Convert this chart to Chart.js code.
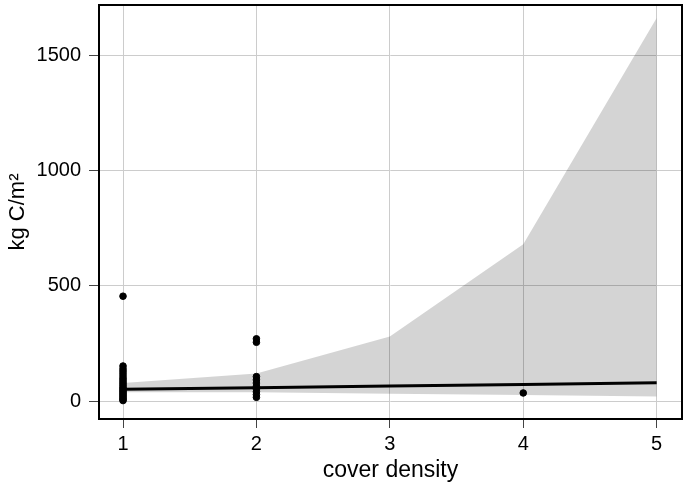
<!DOCTYPE html>
<html>
<head>
<meta charset="utf-8">
<script src="https://cdn.jsdelivr.net/npm/chart.js@4"></script>
<style>
  html, body { margin: 0; padding: 0; background: #fff; }
  #wrap { width: 687px; height: 487px; }
</style>
</head>
<body>
<div id="wrap"><canvas id="chart"></canvas></div>
<script>
// Fitted curve and its interval, per cover density class
const densityLevels = [1, 2, 3, 4, 5];
const fitLine = [51, 58, 65, 72, 79];
const bandLower = [38, 38, 32, 26, 20];
const bandUpper = [78, 120, 280, 680, 1663];

// Observations
const obsDensity1 = [455, 152, 140, 130, 120, 110, 100, 92, 84, 76, 68, 60, 54, 48, 42, 36, 30, 24, 18, 12, 6, 2];
const obsDensity2 = [270, 255, 106, 92, 78, 64, 52, 40, 28, 16];
const obsDensity4 = [35];

const xTicks = [1, 2, 3, 4, 5];
const yTicks = [0, 500, 1000, 1500];

const toPoints = (xs, ys) => ys.map((y, i) => ({ x: xs[i], y }));
const obsPoints = [
  ...obsDensity1.map(y => ({ x: 1, y })),
  ...obsDensity2.map(y => ({ x: 2, y })),
  ...obsDensity4.map(y => ({ x: 4, y }))
];

// Box round the panel
const panelBorder = {
  id: 'panelBorder',
  afterDatasetsDraw(chart) {
    const { ctx, chartArea: a } = chart;
    ctx.save();
    ctx.strokeStyle = '#000';
    ctx.lineWidth = 2;
    ctx.strokeRect(a.left, a.top, a.right - a.left, a.bottom - a.top);
    ctx.restore();
  }
};

const font = { family: 'Arial, "Liberation Sans", sans-serif', size: 20 };
const plain = v => String(v);
const noPad = s => { s.paddingTop = 0; s.paddingBottom = 0; s.paddingLeft = 0; s.paddingRight = 0; };

new Chart(document.getElementById('chart'), {
  type: 'scatter',
  data: {
    datasets: [
      {
        label: 'fit',
        data: toPoints(densityLevels, fitLine),
        showLine: true,
        borderColor: '#000',
        borderWidth: 3,
        pointRadius: 0,
        order: 0
      },
      {
        label: 'obs',
        data: obsPoints,
        backgroundColor: '#000',
        borderColor: '#000',
        pointRadius: 3.3,
        order: 1
      },
      {
        label: 'upper',
        data: toPoints(densityLevels, bandUpper),
        showLine: true,
        borderWidth: 0,
        borderColor: 'rgba(0,0,0,0)',
        pointRadius: 0,
        fill: { target: 3 },
        backgroundColor: 'rgba(0,0,0,0.17)',
        order: 2
      },
      {
        label: 'lower',
        data: toPoints(densityLevels, bandLower),
        showLine: true,
        borderWidth: 0,
        borderColor: 'rgba(0,0,0,0)',
        pointRadius: 0,
        fill: false,
        order: 3
      }
    ]
  },
  options: {
    responsive: true,
    maintainAspectRatio: false,
    animation: false,
    layout: { padding: { top: 1, right: 4, left: 0, bottom: 0 } },
    plugins: { legend: { display: false }, tooltip: { enabled: false } },
    scales: {
      x: {
        type: 'linear',
        min: 0.82,
        max: 5.19,
        afterBuildTicks: s => { s.ticks = xTicks.map(v => ({ value: v })); },
        afterFit: s => { s.height = 68; noPad(s); },
        grid: { color: '#cccccc', tickColor: '#444', tickLength: 9 },
        border: { display: false },
        ticks: { color: '#000', font, padding: 4, maxRotation: 0, callback: plain },
        title: { display: true, text: 'cover density', color: '#000', font: { ...font, size: 23 }, padding: { top: 0, bottom: 3 } }
      },
      y: {
        type: 'linear',
        min: -78,
        max: 1719,
        afterBuildTicks: s => { s.ticks = yTicks.map(v => ({ value: v })); },
        afterFit: s => { s.width = 99; noPad(s); },
        grid: { color: '#cccccc', tickColor: '#444', tickLength: 10 },
        border: { display: false },
        ticks: { color: '#000', font, padding: 8, callback: plain },
        title: { display: true, text: 'kg C/m²', color: '#000', font: { ...font, size: 22 }, padding: { top: 5, bottom: 0 } }
      }
    }
  },
  plugins: [panelBorder]
});
</script>
</body>
</html>
